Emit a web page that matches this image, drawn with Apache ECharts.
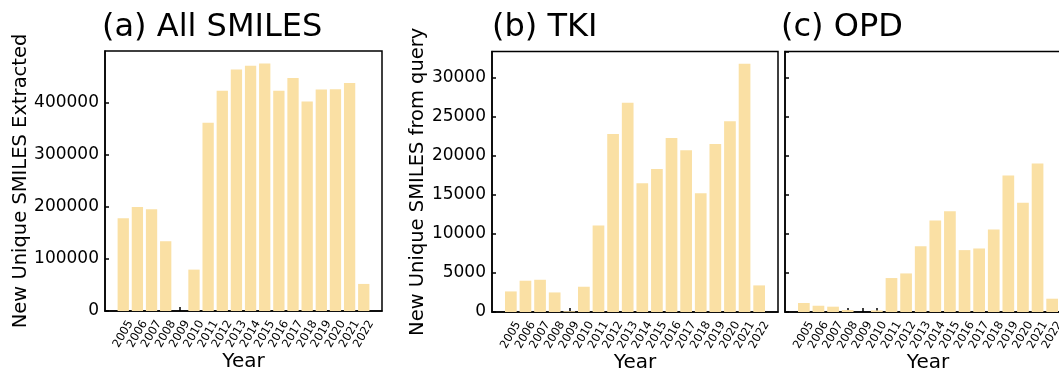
<!DOCTYPE html>
<html><head><meta charset="utf-8">
<script src="https://cdn.jsdelivr.net/npm/echarts@6/dist/echarts.min.js"></script>
<style>html,body{margin:0;padding:0;background:#fff}#c{width:1059px;height:371px}</style>
</head><body><div id="c"></div>
<script>
const years = ['2005','2006','2007','2008','2009','2010','2011','2012','2013','2014','2015','2016','2017','2018','2019','2020','2021','2022'];
const allSmiles = [178000,200000,195500,134000,0,79500,361500,423000,464000,471000,475600,423000,447500,402500,425600,426000,437800,52000];
const tkiSmiles = [2630,4000,4120,2500,100,3230,11050,22760,26760,16470,18290,22250,20680,15190,21480,24380,31730,3400];
const opdSmiles = [1150,800,680,250,0,200,4340,4930,8420,11700,12890,7910,8120,10550,17440,13950,18970,1700];
const titles = ['(a) All SMILES','(b) TKI','(c) OPD'];
const yNames = ['New Unique SMILES Extracted','New Unique SMILES from query',''];

const FONT = 'DejaVu Sans';
const barColor = '#FAE0A4';
const idx = years.map((_, i) => i);
const chart = echarts.init(document.getElementById('c'), null, {renderer:'canvas'});

const grids = [
  {left:105, top:51, width:277, height:260},
  {left:492, top:51.5, width:286, height:260.5},
  {left:785, top:51.5, width:286, height:260.5}
];
const seriesVals = [allSmiles, tkiSmiles, opdSmiles];
const yMax = [499400, 33300, 33300];
const yInt = [100000, 5000, 5000];
const barW = [11.3, 11.7, 11.7];

const option = {
  animation:false,
  textStyle:{fontFamily:FONT},
  title: titles.map((t,i)=>({
    text:t, left:[97,487,776][i], top:7,
    textStyle:{fontFamily:FONT, fontSize:32, fontWeight:'normal', color:'#000'}
  })),
  grid: grids.map(g=>Object.assign({show:true, borderColor:'#000', borderWidth:1.5, backgroundColor:'transparent', outerBoundsMode:'none', containLabel:false}, g)),
  xAxis: grids.map((g,i)=>({
    type:'value', gridIndex:i, min:-1.29, max:18.29,
    name:'Year', nameLocation:'middle', nameGap:41, nameMoveOverlap:false,
    nameTextStyle:{fontFamily:FONT, fontSize:20, color:'#000', verticalAlign:'top'},
    axisLine:{show:true, onZero:false, lineStyle:{color:'#000', width:1.5}},
    axisTick:{show:true, inside:true, length:4, lineStyle:{color:'#000', width:1.5}, customValues:idx},
    axisLabel:{show:true, rotate:60, align:'center', verticalAlign:'middle', fontFamily:FONT, fontSize:11.5, color:'#000', margin:23,
      customValues:idx, formatter:(v)=>years[Math.round(v)]},
    splitLine:{show:false}
  })),
  yAxis: grids.map((g,i)=>({
    type:'value', gridIndex:i, min:0, max:yMax[i], interval:yInt[i],
    name:yNames[i], nameLocation:'middle', nameGap:i===0?74:64, nameMoveOverlap:false,
    nameTextStyle:{fontFamily:FONT, fontSize:19.5, color:'#000'},
    axisLine:{show:true, onZero:false, lineStyle:{color:'#000', width:1.5}},
    axisTick:{show:true, inside:true, length:4, lineStyle:{color:'#000', width:1.5}},
    axisLabel:{show:i<2, fontFamily:FONT, fontSize:17, color:'#000', margin:6,
      formatter:(v)=>String(v), showMaxLabel:false},
    splitLine:{show:false}
  })),
  series: seriesVals.map((vals,i)=>({
    type:'bar', xAxisIndex:i, yAxisIndex:i,
    data: vals.map((v,j)=>[j, v]),
    barWidth: barW[i],
    itemStyle:{color:barColor},
    silent:true
  }))
};
chart.setOption(option);
</script></body></html>
